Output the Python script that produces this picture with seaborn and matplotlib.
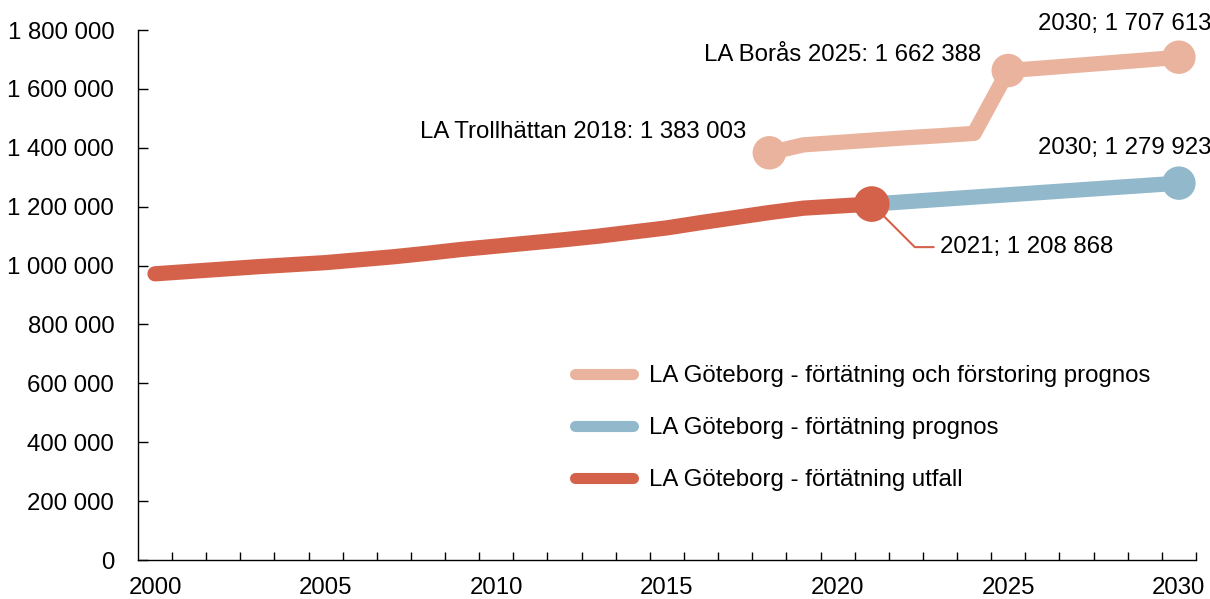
import matplotlib
matplotlib.use("Agg")
import matplotlib.pyplot as plt
import seaborn as sns
import pandas as pd
from matplotlib.lines import Line2D
from matplotlib.ticker import FuncFormatter, MultipleLocator, FixedLocator

# ---- data ----
years_utfall = [2000, 2001, 2002, 2003, 2004, 2005, 2006, 2007, 2008, 2009, 2010,
                2011, 2012, 2013, 2014, 2015, 2016, 2017, 2018, 2019, 2020, 2021]
utfall = [972000, 980000, 988000, 996000, 1003000, 1010000, 1020000, 1030000, 1042000,
          1055000, 1066000, 1077000, 1088000, 1100000, 1114000, 1128000, 1146000,
          1163000, 1180000, 1195000, 1202000, 1208868]

years_prognos = [2021, 2022, 2023, 2024, 2025, 2026, 2027, 2028, 2029, 2030]
prognos = [1208868, 1216800, 1224700, 1232600, 1240500, 1248400, 1256300, 1264200,
           1272000, 1279923]

years_forstoring = [2018, 2019, 2020, 2021, 2022, 2023, 2024, 2025, 2026, 2027, 2028, 2029, 2030]
forstoring = [1383003, 1410000, 1418000, 1426000, 1434000, 1441000, 1449000, 1662388,
              1671000, 1680000, 1689000, 1698000, 1707613]

labels = ["LA Göteborg - förtätning och förstoring prognos",
          "LA Göteborg - förtätning prognos",
          "LA Göteborg - förtätning utfall"]
colors = ["#EAB39E", "#91B9CB", "#D4624A"]
x_tick_labels = [2000, 2005, 2010, 2015, 2020, 2025, 2030]

df = pd.concat([
    pd.DataFrame({"year": years_forstoring, "value": forstoring, "serie": labels[0]}),
    pd.DataFrame({"year": years_prognos, "value": prognos, "serie": labels[1]}),
    pd.DataFrame({"year": years_utfall, "value": utfall, "serie": labels[2]}),
])

sns.set_theme(style="white")
plt.rcParams["font.family"] = ["Liberation Sans", "DejaVu Sans"]
plt.rcParams["font.size"] = 17.3
plt.rcParams["text.color"] = "black"
plt.rcParams["axes.labelcolor"] = "black"
plt.rcParams["xtick.direction"] = "in"
plt.rcParams["ytick.direction"] = "in"
plt.rcParams["xtick.bottom"] = True
plt.rcParams["ytick.left"] = True
FS = 17.3

fig = plt.figure(figsize=(12.10, 5.99), dpi=100)
ax = fig.add_axes([0.1140, 0.0651, 0.8744, 0.8848])

lw = 11
zorders = [2, 3, 4]
for lab, col, z in zip(labels, colors, zorders):
    sub = df[df["serie"] == lab]
    sns.lineplot(data=sub, x="year", y="value", color=col, lw=lw, ax=ax,
                 solid_capstyle="round", solid_joinstyle="round", zorder=z,
                 legend=False, estimator=None)

def pt(years, vals, y):
    return vals[years.index(y)]

mk = pd.DataFrame({
    "year": [2018, 2025, 2030, 2030, 2021],
    "value": [pt(years_forstoring, forstoring, 2018), pt(years_forstoring, forstoring, 2025),
              pt(years_forstoring, forstoring, 2030), pt(years_prognos, prognos, 2030),
              pt(years_utfall, utfall, 2021)],
    "serie": [labels[0], labels[0], labels[0], labels[1], labels[2]],
})
for lab, col, z, s in zip(labels, colors, [5, 6, 7], [580, 580, 660]):
    sub = mk[mk["serie"] == lab]
    sns.scatterplot(data=sub, x="year", y="value", color=col, s=s, ax=ax,
                    edgecolor="none", linewidth=0, zorder=z, legend=False)

# annotations
ax.annotate("LA Trollhättan 2018: 1 383 003", xy=(2018, pt(years_forstoring, forstoring, 2018)),
            xytext=(-16.5, 15), textcoords="offset points", ha="right", va="center", fontsize=FS)
ax.annotate("LA Borås 2025: 1 662 388", xy=(2025, pt(years_forstoring, forstoring, 2025)),
            xytext=(-19.5, 11.5), textcoords="offset points", ha="right", va="center", fontsize=FS)
ax.annotate("2030; 1 707 613", xy=(2030, pt(years_forstoring, forstoring, 2030)),
            xytext=(-39, 24), textcoords="offset points", ha="center", va="center", fontsize=FS)
ax.annotate("2030; 1 279 923", xy=(2030, pt(years_prognos, prognos, 2030)),
            xytext=(-39, 25), textcoords="offset points", ha="center", va="center", fontsize=FS)
ax.annotate("2021; 1 208 868", xy=(2021, pt(years_utfall, utfall, 2021)),
            xytext=(49, -31), textcoords="offset points", ha="left", va="center", fontsize=FS,
            arrowprops=dict(arrowstyle="-", color=colors[2], lw=1.5, shrinkA=2, shrinkB=0,
                            relpos=(0, 0.5),
                            connectionstyle="angle,angleA=0,angleB=-45,rad=0"),
            zorder=1)

# axes
ax.set_xlim(1999.5, 2030.5)
ax.set_ylim(0, 1800000)
ax.set_xlabel("")
ax.set_ylabel("")
ax.xaxis.set_major_locator(FixedLocator(x_tick_labels))
ax.xaxis.set_major_formatter(FuncFormatter(lambda v, p: f"{int(round(v))}"))
ax.xaxis.set_minor_locator(FixedLocator([y + 0.5 for y in range(2000, 2031)]))
ax.yaxis.set_major_locator(MultipleLocator(200000))
ax.yaxis.set_major_formatter(FuncFormatter(lambda v, p: f"{int(v):,}".replace(",", " ")))

ax.tick_params(axis="x", which="major", bottom=True, length=0, pad=12, labelsize=FS,
               labelcolor="black")
ax.tick_params(axis="x", which="minor", bottom=True, length=6, width=1, direction="in",
               color="black")
ax.tick_params(axis="y", which="major", left=True, length=7, width=1, direction="in", pad=17,
               labelsize=FS, labelcolor="black", color="black")

for s in ["top", "right"]:
    ax.spines[s].set_visible(False)
for s in ["left", "bottom"]:
    ax.spines[s].set_color("black")
    ax.spines[s].set_linewidth(1)

handles = [Line2D([0], [0], color=c, lw=8, solid_capstyle="round") for c in colors]
leg = ax.legend(handles, labels, loc="upper left", bbox_to_anchor=(575 / 1210, 1 - 365 / 599),
                bbox_transform=fig.transFigure, frameon=False, handlelength=2.4,
                handletextpad=0.7, labelspacing=1.25, fontsize=FS, borderaxespad=0,
                borderpad=0)
for t in leg.get_texts():
    t.set_color("black")

fig.savefig("out.png", dpi=100)
